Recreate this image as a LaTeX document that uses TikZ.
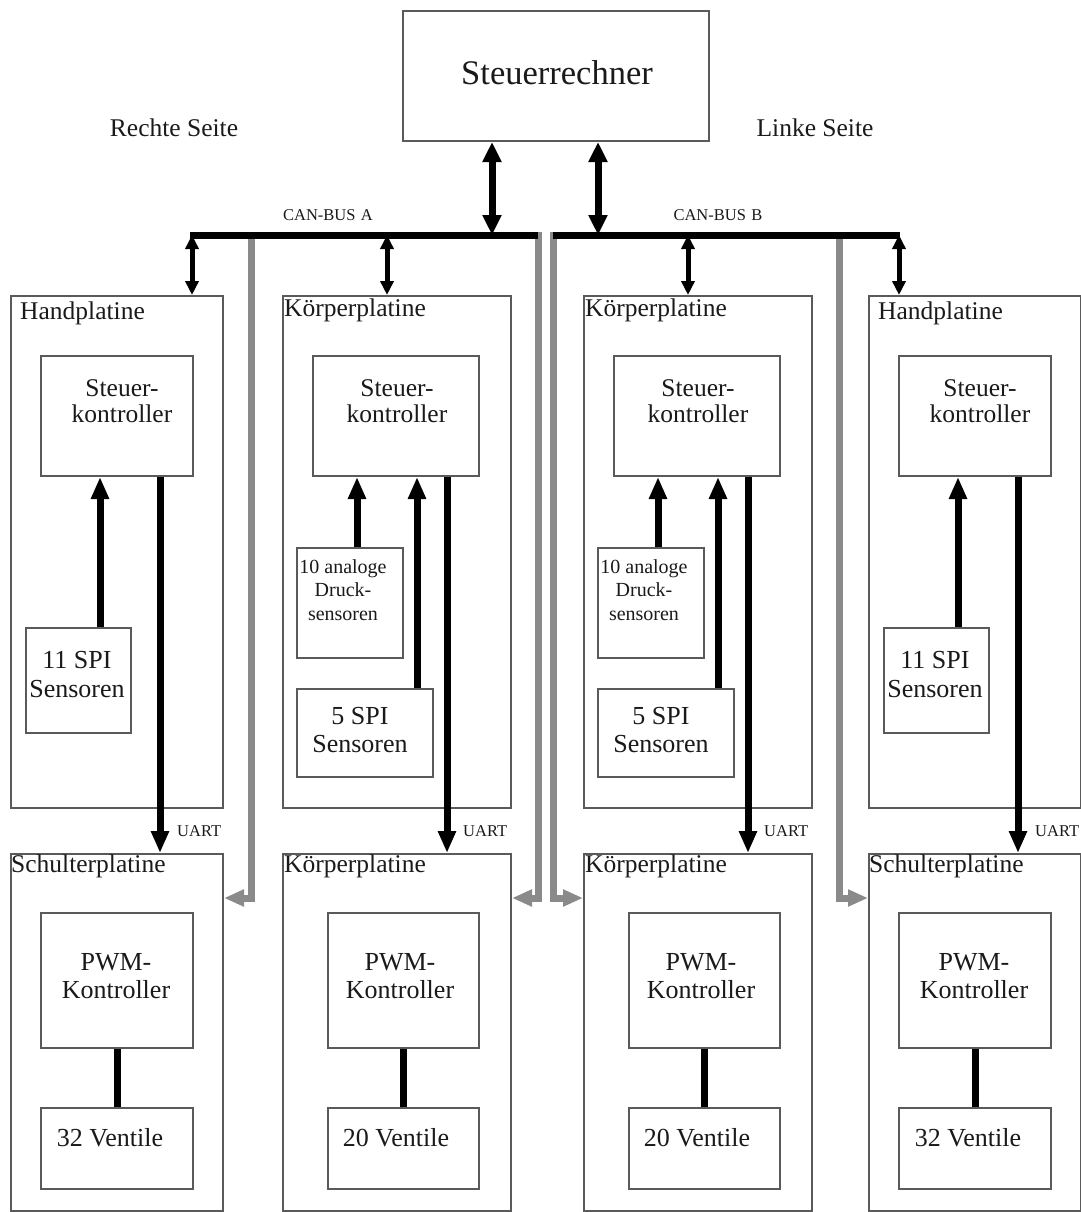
\documentclass[tikz,border=0pt]{standalone}
\usepackage{fontspec}
\setmainfont{Liberation Serif}
\usetikzlibrary{arrows.meta}
\definecolor{boxgray}{HTML}{5A5A5A}
\definecolor{busgray}{HTML}{8A8A8A}
\definecolor{txtcol}{HTML}{1A1A1A}
\begin{document}
\begin{tikzpicture}[x=1pt,y=-1pt,
  box/.style={draw=boxgray, line width=2pt, inner sep=0pt, anchor=north west},
  title/.style={font=\fontsize{34.5}{40}\selectfont, text=txtcol},
  lbl/.style={font=\fontsize{25.5}{30}\selectfont, text=txtcol, anchor=west, inner sep=0pt},
  side/.style={font=\fontsize{25.5}{30}\selectfont, text=txtcol},
  txt/.style={font=\fontsize{25.5}{26}\selectfont, text=txtcol, align=center, inner sep=0pt},
  txtbig/.style={font=\fontsize{26}{28}\selectfont, text=txtcol, align=center, inner sep=0pt},
  txtspi/.style={font=\fontsize{26}{29}\selectfont, text=txtcol, align=center, inner sep=0pt},
  txtsmall/.style={font=\fontsize{20}{23.5}\selectfont, text=txtcol, align=center, inner sep=0pt},
  tiny/.style={font=\fontsize{16.5}{18}\selectfont, text=txtcol, inner sep=0pt},
  uart/.style={font=\fontsize{16.5}{18}\selectfont, text=txtcol, anchor=west, inner sep=0pt},
  arr/.style={line width=7pt, -{Triangle[length=22pt,width=17pt]}},
  link/.style={line width=7pt},
  dblbig/.style={line width=7pt, {Triangle[length=20pt,width=18pt]}-{Triangle[length=20pt,width=18pt]}},
  dblsmall/.style={line width=5pt, {Triangle[length=14pt,width=13pt]}-{Triangle[length=14pt,width=13pt]}},
  grayarr/.style={draw=busgray, line width=7pt, -{Triangle[length=20pt,width=16pt]}},
  bus/.style={line width=7pt}
]
\useasboundingbox (0,0) rectangle (1080,1212);
\fill[white] (0,0) rectangle (1080,1212);

% Steuerrechner
\node[box, minimum width=306, minimum height=130] (sr) at (402,10) {};
\node[title] (srt) at (557,73) {Steuerrechner};
\node[side] (rs) at (174,128) {Rechte Seite};
\node[side] (ls) at (815,128) {Linke Seite};

% Hand/Schulter columns
\foreach \dx/\s in {0/a,858/d}{
  \begin{scope}[xshift=\dx pt]
    \node[box, minimum width=212, minimum height=512] (hp\s) at (10,295) {};
    \node[lbl] (hpl\s) at (20,313) {Handplatine};
    \node[box, minimum width=152, minimum height=120] (sk\s) at (40,355) {};
    \node[txt] (skt\s) at (122,401) {Steuer-\\kontroller};
    \node[box, minimum width=105, minimum height=105] (spi\s) at (25,627) {};
    \node[txtspi] (spit\s) at (77,675) {11 SPI\\Sensoren};
    \node[uart] (ut\s) at (177,831) {UART};
    \node[box, minimum width=212, minimum height=357] (sch\s) at (10,853) {};
    \node[lbl] (schl\s) at (11,866) {Schulterplatine};
    \node[box, minimum width=152, minimum height=135] (pwm\s) at (40,912) {};
    \node[txtbig] (pwmt\s) at (116,976) {PWM-\\Kontroller};
    \node[box, minimum width=152, minimum height=81] (v\s) at (40,1107) {};
    \node[txtbig] (vt\s) at (110,1138) {32 Ventile};
  \end{scope}
  \draw[arr] ([xshift=75pt]spi\s.north west) -- ([xshift=75pt]spi\s.north west |- sk\s.south);
  \draw[arr] ([xshift=120pt]sk\s.south west) -- ([xshift=120pt]sk\s.south west |- sch\s.north);
  \draw[link] (pwm\s.south) -- (v\s.north);
}

% Koerper columns
\foreach \dx/\s in {0/b,301/c}{
  \begin{scope}[xshift=\dx pt]
    \node[box, minimum width=228, minimum height=512] (hp\s) at (282,295) {};
    \node[lbl] (hpl\s) at (284,310) {Körperplatine};
    \node[box, minimum width=166, minimum height=120] (sk\s) at (312,355) {};
    \node[txt] (skt\s) at (397,401) {Steuer-\\kontroller};
    \node[box, minimum width=106, minimum height=110] (an\s) at (296,547) {};
    \node[txtsmall] (ant\s) at (343,590) {10 analoge\\Druck-\\sensoren};
    \node[box, minimum width=136, minimum height=88] (spi\s) at (296,688) {};
    \node[txtbig] (spit\s) at (360,730) {5 SPI\\Sensoren};
    \node[uart] (ut\s) at (463,831) {UART};
    \node[box, minimum width=228, minimum height=357] (sch\s) at (282,853) {};
    \node[lbl] (schl\s) at (284,866) {Körperplatine};
    \node[box, minimum width=151, minimum height=135] (pwm\s) at (327,912) {};
    \node[txtbig] (pwmt\s) at (400,976) {PWM-\\Kontroller};
    \node[box, minimum width=151, minimum height=81] (v\s) at (327,1107) {};
    \node[txtbig] (vt\s) at (396,1138) {20 Ventile};
  \end{scope}
  \draw[arr] ([xshift=61pt]an\s.north west) -- ([xshift=61pt]an\s.north west |- sk\s.south);
  \draw[arr] ([xshift=121pt]spi\s.north west) -- ([xshift=121pt]spi\s.north west |- sk\s.south);
  \draw[arr] ([xshift=135pt]sk\s.south west) -- ([xshift=135pt]sk\s.south west |- sch\s.north);
  \draw[link] (pwm\s.south) -- (v\s.north);
}

% Bus coordinates
\coordinate (bAl) at (190,235);
\coordinate (bAr) at (538,235);
\coordinate (bBl) at (553,235);
\coordinate (bBr) at (900,235);
\coordinate (gA1) at (251,232);
\coordinate (gA2) at (538,232);
\coordinate (gB1) at (553,232);
\coordinate (gB2) at (839,232);
\coordinate (cA) at (492,235);
\coordinate (cB) at (598,235);
\coordinate (dA1) at (192,235);
\coordinate (dA2) at (387,235);
\coordinate (dB1) at (688,235);
\coordinate (dB2) at (899,235);

% gray links
\draw[grayarr] (gA1) |- ([yshift=-45pt]scha.north east);
\draw[grayarr] (gA2) |- ([yshift=-45pt]schb.north east);
\draw[grayarr] (gB1) |- ([yshift=-45pt]schc.north west);
\draw[grayarr] (gB2) |- ([yshift=-45pt]schd.north west);

% buses
\draw[bus] (bAl) -- (bAr);
\draw[bus] (bBl) -- (bBr);
\node[tiny] (lA) at (328,215) {CAN-BUS\,\,A};
\node[tiny] (lB) at (718,215) {CAN-BUS\,\,B};

\draw[dblbig] (cA |- sr.south) -- (cA);
\draw[dblbig] (cB |- sr.south) -- (cB);
\draw[dblsmall] (dA1) -- (dA1 |- hpa.north);
\draw[dblsmall] (dA2) -- (dA2 |- hpb.north);
\draw[dblsmall] (dB1) -- (dB1 |- hpc.north);
\draw[dblsmall] (dB2) -- (dB2 |- hpd.north);
\end{tikzpicture}
\end{document}
